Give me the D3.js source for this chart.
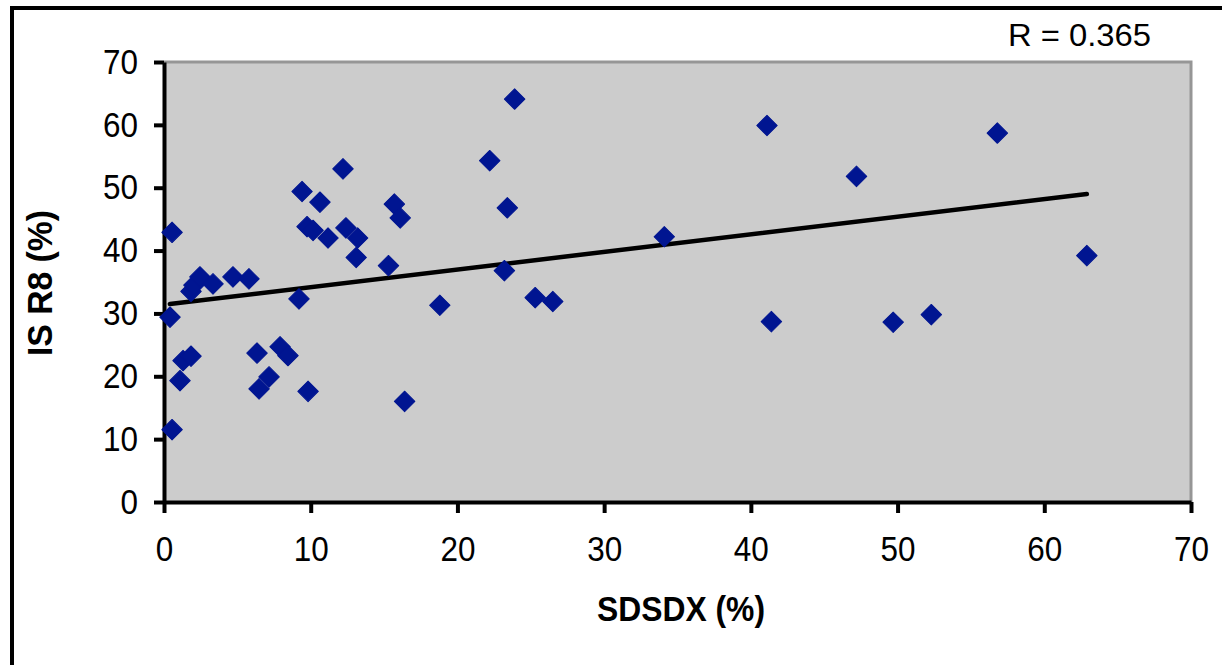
<!DOCTYPE html>
<html>
<head>
<meta charset="utf-8">
<script src="https://cdn.jsdelivr.net/npm/d3@7"></script>
<style>
  body { margin: 0; background: #fff; }
  text { font-family: "Liberation Sans", Arial, sans-serif; }
</style>
</head>
<body>
<script>
// values
const sdsdx = [0.55, 0.41, 0.55, 1.09, 1.3, 1.84, 1.84, 2.04, 2.45, 3.34, 4.7, 5.79,
  6.34, 6.48, 7.16, 7.91, 8.45, 9.2, 9.41, 9.75, 10.16, 9.82, 10.63, 11.18,
  12.2, 12.4, 13.2, 13.1, 15.3, 15.7, 16.1, 16.4, 18.8, 22.2, 23.9, 23.2,
  23.4, 25.3, 26.5, 34.1, 41.1, 41.4, 47.2, 49.7, 52.3, 56.8, 62.9]
const isR8 = [42.9, 29.4, 11.5, 19.3, 22.5, 23.2, 33.5, 34.5, 35.8, 34.7, 35.8, 35.5,
  23.7, 18.0, 19.9, 24.7, 23.3, 32.3, 49.4, 43.8, 43.2, 17.6, 47.7, 42.0,
  53.0, 43.6, 42.0, 38.9, 37.6, 47.4, 45.2, 16.0, 31.3, 54.3, 64.1, 36.8,
  46.8, 32.5, 31.9, 42.2, 59.9, 28.7, 51.8, 28.6, 29.8, 58.7, 39.2]
const trendX = [0.4, 62.9]
const trendY = [31.5, 49.0]
const xTicks = [0, 10, 20, 30, 40, 50, 60, 70]
const yTicks = [0, 10, 20, 30, 40, 50, 60, 70]
const rLabel = 'R = 0.365'

const W = 1222, H = 665
const PLOT = {left: 164, top: 62, right: 1191, bottom: 502}

const svg = d3.select('body').append('svg')
  .attr('width', W)
  .attr('height', H)

// outer frame (runs off the right and bottom)
svg.append('rect')
  .attr('x', 12).attr('y', 8)
  .attr('width', 1300).attr('height', 700)
  .attr('fill', 'none')
  .attr('stroke', '#000')
  .attr('stroke-width', 4)

const x = d3.scaleLinear().domain([0, 70]).range([PLOT.left, PLOT.right])
const y = d3.scaleLinear().domain([0, 70]).range([PLOT.bottom, PLOT.top])

// plot area
svg.append('rect')
  .attr('x', PLOT.left).attr('y', PLOT.top)
  .attr('width', PLOT.right - PLOT.left)
  .attr('height', PLOT.bottom - PLOT.top)
  .attr('fill', '#cccccc')
svg.append('path')
  .attr('d', `M${PLOT.left},${PLOT.top}H${PLOT.right}V${PLOT.bottom}`)
  .attr('fill', 'none')
  .attr('stroke', '#969696')
  .attr('stroke-width', 3)

const xAxis = svg.append('g')
  .attr('transform', `translate(0, ${PLOT.bottom})`)
  .call(d3.axisBottom(x).tickValues(xTicks).tickSize(11).tickPadding(23).tickSizeOuter(0))
const yAxis = svg.append('g')
  .attr('transform', `translate(${PLOT.left}, 0)`)
  .call(d3.axisLeft(y).tickValues(yTicks).tickSize(10).tickPadding(16).tickSizeOuter(0))

// narrow-looking tick labels: squeeze each to the width seen in the picture
;[xAxis, yAxis].forEach(g => {
  g.select('.domain').attr('stroke', '#000').attr('stroke-width', 4)
  g.selectAll('.tick line').attr('stroke', '#000').attr('stroke-width', 4)
  g.selectAll('.tick text')
    .attr('fill', '#000')
    .style('font-size', '35px')
    .style('font-family', '"Liberation Sans", Arial, sans-serif')
    .attr('textLength', d => String(d).length * 17.5)
    .attr('lengthAdjust', 'spacingAndGlyphs')
})

// trend line
svg.append('line')
  .attr('x1', x(trendX[0])).attr('y1', y(trendY[0]))
  .attr('x2', x(trendX[1])).attr('y2', y(trendY[1]))
  .attr('stroke', '#000')
  .attr('stroke-width', 4.5)
  .attr('stroke-linecap', 'round')

// points (rotated squares = diamonds)
const diamond = d3.symbol().type(d3.symbolSquare).size(210)
svg.append('g')
  .selectAll('path')
  .data(sdsdx.map((d, i) => ({x: d, y: isR8[i]})))
  .join('path')
    .attr('d', diamond)
    .attr('transform', d => `translate(${x(d.x)}, ${y(d.y)}) rotate(45)`)
    .attr('fill', '#001591')
    .attr('stroke', '#001591')
    .attr('stroke-width', 1)
    .attr('stroke-linejoin', 'round')

// titles
svg.append('text')
  .attr('x', 681).attr('y', 621)
  .attr('text-anchor', 'middle')
  .style('font-size', '35px')
  .style('font-weight', 'bold')
  .attr('textLength', 168)
  .attr('lengthAdjust', 'spacingAndGlyphs')
  .text('SDSDX (%)')

svg.append('text')
  .attr('transform', 'translate(52, 283) rotate(-90)')
  .attr('text-anchor', 'middle')
  .style('font-size', '35px')
  .style('font-weight', 'bold')
  .attr('textLength', 146)
  .attr('lengthAdjust', 'spacingAndGlyphs')
  .text('IS R8 (%)')

svg.append('text')
  .attr('x', 1008).attr('y', 46)
  .style('font-size', '32px')
  .attr('textLength', 143)
  .attr('lengthAdjust', 'spacingAndGlyphs')
  .text(rLabel)
</script>
</body>
</html>
